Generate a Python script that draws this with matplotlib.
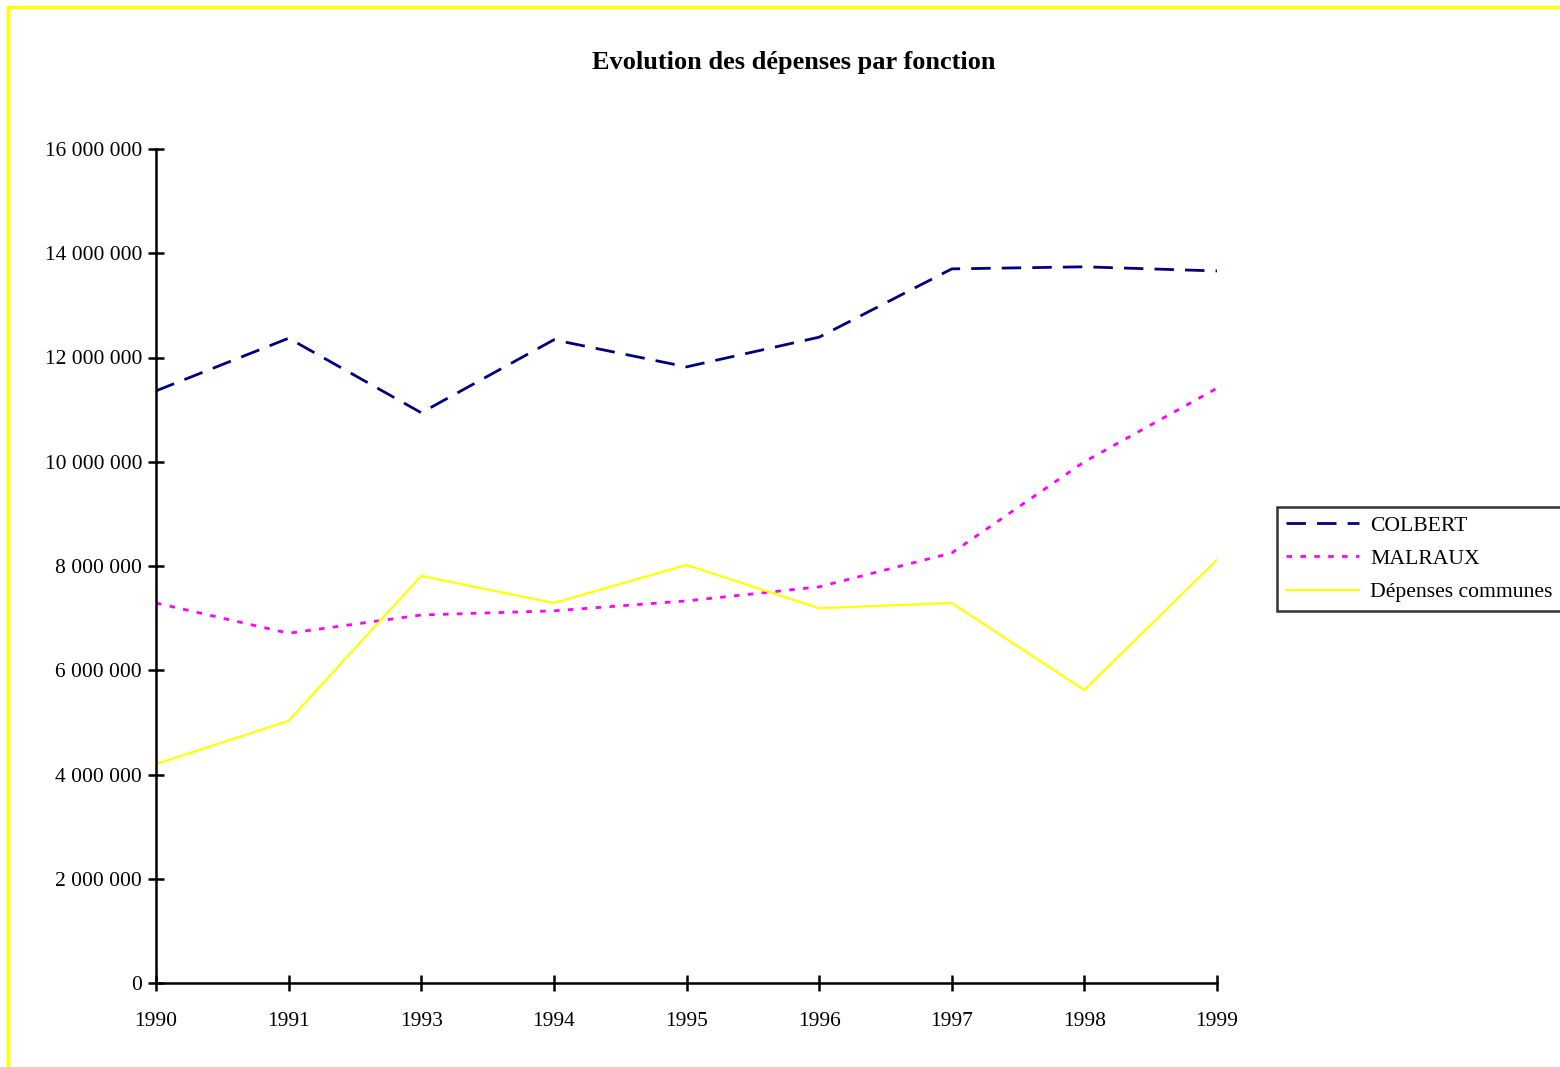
import matplotlib.pyplot as plt
from matplotlib.patches import Rectangle
from matplotlib.ticker import FuncFormatter

plt.rcParams['font.family'] = ['Liberation Serif', 'DejaVu Serif']

# Dépenses annuelles par fonction (en francs)
annees = ['1990', '1991', '1993', '1994', '1995', '1996', '1997', '1998', '1999']
colbert = [11360000, 12370000, 10940000, 12340000, 11820000, 12390000, 13700000, 13740000, 13660000]
malraux = [7290000, 6710000, 7060000, 7140000, 7330000, 7600000, 8250000, 10000000, 11410000]
communes = [4200000, 5030000, 7810000, 7290000, 8020000, 7190000, 7290000, 5620000, 8120000]

fig = plt.figure(figsize=(15.6, 10.67), dpi=100)
ax = fig.add_axes([156 / 1560, 1 - 983 / 1067, (1217 - 156) / 1560, (983 - 149) / 1067])

x = range(len(annees))
ax.plot(x, colbert, color='#000080', linestyle=(0, (7, 4)), linewidth=2, label='COLBERT')
ax.plot(x, malraux, color='#ff00ff', linestyle=(0, (2, 3)), linewidth=2, label='MALRAUX')
ax.plot(x, communes, color='#ffff00', linestyle='-', linewidth=1.6, label='Dépenses communes')

ax.set_xlim(0, len(annees) - 1)
ax.set_ylim(0, 16000000)
ax.set_xticks(list(x))
ax.set_xticklabels(annees)
ax.set_yticks(range(0, 16000001, 2000000))
ax.yaxis.set_major_formatter(FuncFormatter(lambda v, p: f'{int(v):,}'.replace(',', ' ')))

for s in ['top', 'right']:
    ax.spines[s].set_visible(False)
for s in ['left', 'bottom']:
    ax.spines[s].set_linewidth(1.8)
ax.tick_params(axis='both', direction='inout', length=12, width=1.8, labelsize=15.5)
ax.tick_params(axis='x', pad=15)
ax.tick_params(axis='y', pad=4)

fig.text(794 / 1560, 1 - 62 / 1067, 'Evolution des dépenses par fonction',
         ha='center', va='center', fontsize=19, fontweight='bold')

leg = fig.legend(loc='upper left', bbox_to_anchor=(1277 / 1560, 1 - 507 / 1067),
                 fontsize=15.6, frameon=True, fancybox=False, edgecolor='black',
                 handlelength=3.4, handletextpad=0.5, labelspacing=0.6,
                 borderpad=0.4, borderaxespad=0)
leg.get_frame().set_linewidth(1.8)

# cadre jaune autour du graphique
fig.patches.append(Rectangle((8 / 1560, -0.1), 1.2, 1 - 7 / 1067 + 0.1, transform=fig.transFigure,
                             fill=False, edgecolor='#ffff00', linewidth=2.5))

fig.savefig('out.png', dpi=100)
